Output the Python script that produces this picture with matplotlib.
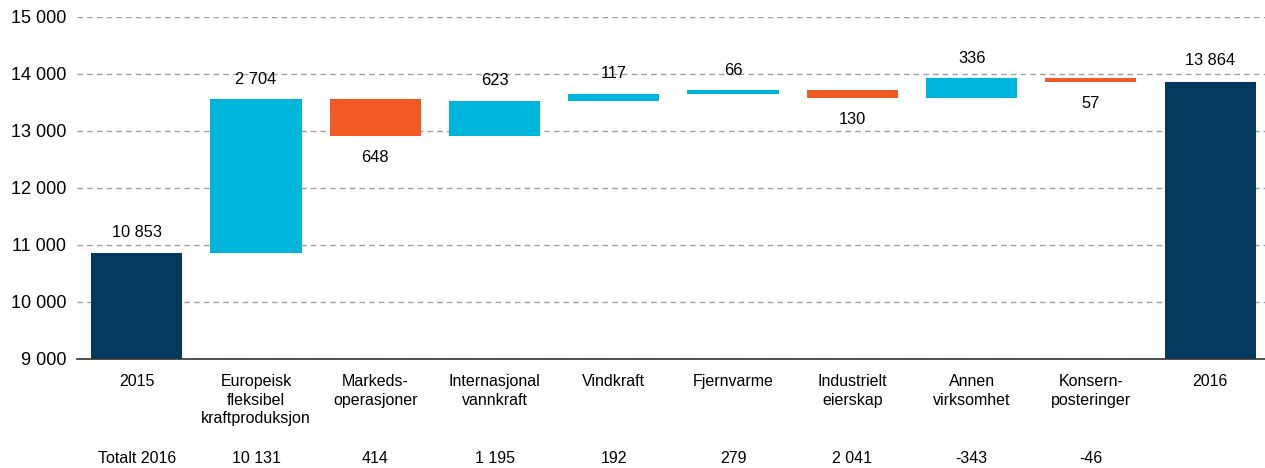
#!/usr/bin/env python3
"""Waterfall of operating result 2015 -> 2016 per segment."""
import matplotlib

matplotlib.use("Agg")
import matplotlib.pyplot as plt
import numpy as np

CATEGORIES = [
    "2015",
    "Europeisk\nfleksibel\nkraftproduksjon",
    "Markeds-\noperasjoner",
    "Internasjonal\nvannkraft",
    "Vindkraft",
    "Fjernvarme",
    "Industrielt\neierskap",
    "Annen\nvirksomhet",
    "Konsern-\nposteringer",
    "2016",
]
START = 10853
CHANGES = [2704, -648, 623, 117, 66, -130, 336, -57]
END = 13864
TOTALT_LABEL = "Totalt 2016"
TOTALT_2016 = ["10 131", "414", "1 195", "192", "279", "2 041", "-343", "-46"]
YTICKS = [9000, 10000, 11000, 12000, 13000, 14000, 15000]

NAVY = "#03395c"
CYAN = "#00b5dc"
ORANGE = "#f15a24"


def fmt(v):
    return f"{abs(v):,}".replace(",", " ")


def main():
    plt.rcParams["font.family"] = ["Liberation Sans", "DejaVu Sans"]
    fig = plt.figure(figsize=(12.65, 4.68), dpi=100)
    ax = fig.add_axes([0.061, 0.233, 0.939, 0.731])

    x = np.arange(len(CATEGORIES))
    width = 0.765

    # totals at both ends
    ax.bar([x[0], x[-1]], [START - 9000, END - 9000], width, bottom=9000,
           color=NAVY, zorder=2)
    for xi, v in ((x[0], START), (x[-1], END)):
        ax.text(xi, v + 240, fmt(v), ha="center", va="bottom", fontsize=11.8)

    # floating steps
    level = START
    for xi, d in zip(x[1:-1], CHANGES):
        lo = min(level, level + d)
        ax.bar(xi, abs(d), width, bottom=lo,
               color=CYAN if d > 0 else ORANGE, zorder=2)
        if d > 0:
            ax.text(xi, lo + abs(d) + 220, fmt(d), ha="center", va="bottom",
                    fontsize=11.8)
        else:
            ax.text(xi, lo - 250, fmt(d), ha="center", va="top", fontsize=11.8)
        level += d

    ax.set_xlim(-0.5, 9.46)
    ax.set_ylim(9000, 15000)
    ax.set_yticks(YTICKS, [fmt(t) for t in YTICKS], fontsize=13)
    ax.set_xticks(x, CATEGORIES, fontsize=11.5, linespacing=1.3)
    ax.tick_params(axis="x", length=0, pad=11)
    ax.tick_params(axis="y", length=0, pad=8)
    ax.yaxis.grid(True, color="#a0a0a0", linestyle=(0, (4, 3)), linewidth=1.0)
    ax.set_axisbelow(True)
    for side in ("top", "right", "left"):
        ax.spines[side].set_visible(False)
    ax.spines["bottom"].set_color("#333333")
    ax.spines["bottom"].set_linewidth(1.2)

    trans = ax.get_xaxis_transform()
    ax.text(x[0], -0.29, TOTALT_LABEL, transform=trans, ha="center",
            va="center", fontsize=11.5)
    for xi, t in zip(x[1:-1], TOTALT_2016):
        ax.text(xi, -0.29, t, transform=trans, ha="center", va="center",
                fontsize=11.5)

    fig.savefig("out.png", dpi=100)
    plt.close(fig)


if __name__ == "__main__":
    main()
